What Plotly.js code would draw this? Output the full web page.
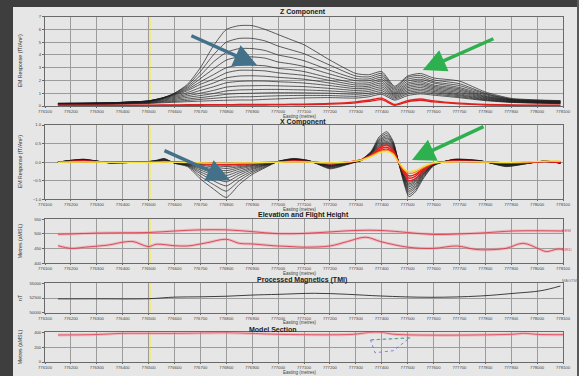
<!DOCTYPE html>
<html>
<head>
<meta charset="utf-8">
<script src="https://cdn.plot.ly/plotly-3.0.1.min.js"></script>
<style>
  html, body { margin: 0; padding: 0; background: #e6e6e6; }
  #chart { width: 579px; height: 376px; }
</style>
</head>
<body>
<div id="chart"></div>
<script>
// ---------- Easting ticks shared by every panel ----------
const EASTING_TICKS = [776100, 776200, 776300, 776400, 776500, 776600, 776700, 776800, 776900, 777000,
  777100, 777200, 777300, 777400, 777500, 777600, 777700, 777800, 777900, 778000, 778100];
const FIDUCIAL_EASTING = 776502;

// ---------- Z component (fT/Am²), one array per channel ----------
const Z_EASTING = [776150, 776250, 776350, 776450, 776500, 776550, 776600, 776650, 776700, 776750,
  776800, 776850, 776900, 776950, 777000, 777050, 777100, 777200, 777300, 777350,
  777400, 777450, 777500, 777550, 777600, 777700, 777800, 777900, 778000, 778090];
const Z_CH01 = [0.22,0.24,0.26,0.32,0.36,0.55,1.0,1.7,3.0,4.7,6.0,6.3,6.3,6.0,5.6,5.2,4.8,3.6,2.55,2.45,2.7,1.55,2.35,2.55,2.2,1.95,1.1,0.6,0.48,0.42];
const Z_CH02 = [0.2,0.22,0.25,0.32,0.38,0.6,1.0,1.6,2.7,4.0,5.0,5.3,5.3,5.1,4.7,4.4,4.1,3.2,2.35,2.28,2.55,1.45,2.25,2.4,2.05,1.75,1.0,0.55,0.45,0.4];
const Z_CH03 = [0.2,0.22,0.25,0.33,0.4,0.62,0.95,1.5,2.4,3.45,4.2,4.5,4.5,4.35,4.0,3.8,3.55,2.8,2.15,2.12,2.4,1.35,2.1,2.25,1.9,1.6,0.95,0.52,0.42,0.38];
const Z_CH04 = [0.18,0.2,0.24,0.33,0.4,0.62,0.92,1.4,2.15,2.9,3.6,3.85,3.85,3.75,3.45,3.3,3.1,2.5,1.98,1.98,2.25,1.25,1.95,2.1,1.8,1.45,0.88,0.5,0.4,0.36];
const Z_CH05 = [0.18,0.2,0.24,0.33,0.4,0.6,0.88,1.3,1.9,2.45,3.0,3.2,3.2,3.15,2.95,2.85,2.7,2.2,1.8,1.82,2.1,1.15,1.8,1.95,1.65,1.35,0.8,0.47,0.38,0.34];
const Z_CH06 = [0.17,0.19,0.23,0.32,0.39,0.58,0.82,1.2,1.7,2.1,2.6,2.8,2.8,2.75,2.6,2.5,2.4,2.0,1.65,1.68,1.95,1.05,1.68,1.82,1.55,1.25,0.75,0.45,0.36,0.32];
const Z_CH07 = [0.16,0.18,0.22,0.3,0.37,0.55,0.75,1.05,1.45,1.8,2.2,2.35,2.37,2.33,2.25,2.18,2.1,1.8,1.5,1.55,1.8,0.98,1.55,1.7,1.45,1.15,0.7,0.42,0.34,0.3];
const Z_CH08 = [0.15,0.17,0.2,0.28,0.34,0.5,0.68,0.92,1.22,1.5,1.82,1.93,1.96,1.95,1.9,1.86,1.8,1.6,1.36,1.42,1.65,0.9,1.43,1.58,1.35,1.05,0.65,0.4,0.32,0.28];
const Z_CH09 = [0.14,0.16,0.19,0.26,0.31,0.45,0.6,0.8,1.0,1.22,1.48,1.57,1.59,1.6,1.58,1.55,1.52,1.38,1.22,1.28,1.5,0.82,1.3,1.45,1.25,0.95,0.6,0.37,0.3,0.26];
const Z_CH10 = [0.13,0.15,0.18,0.24,0.28,0.4,0.52,0.68,0.82,0.98,1.18,1.26,1.28,1.3,1.3,1.28,1.26,1.18,1.07,1.14,1.35,0.74,1.18,1.32,1.15,0.87,0.55,0.34,0.28,0.24];
const Z_CH11 = [0.12,0.14,0.17,0.22,0.26,0.35,0.44,0.55,0.66,0.78,0.92,0.98,1.0,1.03,1.04,1.04,1.03,1.0,0.92,1.0,1.2,0.65,1.06,1.2,1.05,0.8,0.5,0.32,0.26,0.22];
const Z_CH12 = [0.11,0.13,0.15,0.2,0.23,0.3,0.36,0.44,0.52,0.6,0.68,0.72,0.73,0.77,0.8,0.82,0.83,0.82,0.76,0.86,1.05,0.55,0.95,1.08,0.95,0.72,0.46,0.3,0.24,0.2];
const Z_CH13 = [0.1,0.12,0.14,0.18,0.2,0.25,0.29,0.34,0.38,0.42,0.45,0.47,0.47,0.52,0.56,0.6,0.63,0.66,0.62,0.72,0.92,0.45,0.82,0.95,0.85,0.65,0.42,0.28,0.22,0.18];
const Z_LATE1 = [0.06,0.06,0.06,0.07,0.07,0.08,0.09,0.1,0.1,0.11,0.11,0.12,0.12,0.12,0.13,0.14,0.15,0.2,0.33,0.45,0.62,0.12,0.42,0.55,0.4,0.22,0.12,0.08,0.07,0.07];
const Z_LATE2 = [0.03,0.03,0.03,0.04,0.04,0.05,0.05,0.06,0.06,0.07,0.07,0.08,0.08,0.08,0.09,0.1,0.1,0.14,0.25,0.36,0.5,0.06,0.33,0.45,0.32,0.16,0.08,0.05,0.04,0.04];

// ---------- X component (fT/Am²), one array per channel ----------
const X_EASTING = [776150, 776200, 776250, 776300, 776350, 776420, 776480, 776530, 776560, 776600,
  776650, 776700, 776750, 776800, 776850, 776900, 776950, 777000, 777060, 777120,
  777200, 777260, 777320, 777360, 777390, 777420, 777445, 777465, 777485, 777505,
  777530, 777560, 777600, 777680, 777780, 777880, 777960, 778030, 778090];
const X_CH01 = [0.0,0.05,0.08,0.03,-0.02,-0.01,0.0,0.05,0.1,-0.03,-0.12,-0.45,-0.72,-0.95,-0.6,-0.33,-0.15,0.02,0.1,0.04,-0.18,-0.08,0.06,0.3,0.68,0.82,0.55,0.0,-0.55,-0.93,-0.8,-0.45,-0.1,0.08,0.04,-0.12,-0.04,0.03,-0.03];
const X_CH02 = [0.0,0.05,0.075,0.03,-0.02,-0.01,0.0,0.04,0.09,-0.03,-0.1,-0.38,-0.6,-0.78,-0.5,-0.28,-0.13,0.02,0.09,0.04,-0.16,-0.07,0.06,0.28,0.64,0.77,0.52,0.0,-0.5,-0.87,-0.75,-0.42,-0.09,0.07,0.04,-0.11,-0.04,0.03,-0.03];
const X_CH03 = [0.0,0.045,0.07,0.03,-0.02,-0.01,0.0,0.04,0.08,-0.02,-0.09,-0.31,-0.5,-0.64,-0.42,-0.24,-0.11,0.02,0.085,0.035,-0.15,-0.06,0.06,0.27,0.6,0.72,0.49,0.0,-0.47,-0.81,-0.7,-0.39,-0.08,0.07,0.035,-0.1,-0.035,0.03,-0.025];
const X_CH04 = [0.0,0.04,0.065,0.025,-0.02,-0.01,0.0,0.035,0.07,-0.02,-0.08,-0.26,-0.42,-0.53,-0.35,-0.2,-0.09,0.015,0.08,0.03,-0.13,-0.05,0.055,0.26,0.57,0.68,0.46,0.0,-0.44,-0.76,-0.66,-0.36,-0.07,0.065,0.03,-0.09,-0.03,0.03,-0.025];
const X_CH05 = [0.0,0.04,0.06,0.025,-0.015,-0.01,0.0,0.03,0.06,-0.015,-0.07,-0.21,-0.35,-0.44,-0.29,-0.17,-0.08,0.015,0.07,0.03,-0.12,-0.045,0.05,0.25,0.54,0.64,0.44,0.0,-0.41,-0.71,-0.62,-0.34,-0.07,0.06,0.03,-0.08,-0.03,0.025,-0.02];
const X_CH06 = [0.0,0.035,0.055,0.02,-0.015,-0.01,0.0,0.03,0.05,-0.015,-0.06,-0.17,-0.28,-0.36,-0.24,-0.14,-0.07,0.01,0.065,0.025,-0.11,-0.04,0.05,0.24,0.51,0.6,0.41,0.0,-0.38,-0.66,-0.58,-0.32,-0.06,0.055,0.025,-0.07,-0.025,0.025,-0.02];
const X_CH07 = [0.0,0.035,0.05,0.02,-0.01,-0.01,0.0,0.025,0.045,-0.01,-0.05,-0.14,-0.23,-0.29,-0.19,-0.11,-0.06,0.01,0.06,0.025,-0.1,-0.035,0.045,0.23,0.48,0.56,0.39,0.0,-0.36,-0.62,-0.54,-0.3,-0.055,0.05,0.025,-0.065,-0.02,0.02,-0.02];
const X_CH08 = [0.0,0.03,0.045,0.02,-0.01,-0.005,0.0,0.02,0.04,-0.01,-0.04,-0.11,-0.18,-0.23,-0.15,-0.09,-0.05,0.01,0.055,0.02,-0.09,-0.03,0.045,0.22,0.45,0.53,0.37,0.0,-0.34,-0.58,-0.51,-0.28,-0.05,0.045,0.02,-0.06,-0.02,0.02,-0.015];
const X_CH09 = [0.0,0.03,0.04,0.015,-0.01,-0.005,0.0,0.02,0.035,-0.01,-0.035,-0.08,-0.13,-0.17,-0.12,-0.07,-0.04,0.005,0.05,0.02,-0.08,-0.03,0.04,0.21,0.43,0.5,0.35,0.0,-0.32,-0.54,-0.48,-0.26,-0.045,0.04,0.02,-0.055,-0.02,0.02,-0.015];
const X_CH10 = [0.0,0.025,0.035,0.015,-0.01,-0.005,0.0,0.015,0.03,-0.005,-0.03,-0.06,-0.09,-0.12,-0.09,-0.05,-0.03,0.005,0.045,0.015,-0.07,-0.025,0.04,0.2,0.4,0.47,0.33,0.0,-0.3,-0.5,-0.45,-0.24,-0.04,0.04,0.02,-0.05,-0.015,0.015,-0.015];
const X_LATE1 = [0.0,0.02,0.03,0.01,-0.005,0.0,0.0,0.01,0.02,0.0,-0.02,-0.04,-0.06,-0.08,-0.06,-0.04,-0.02,0.0,0.03,0.01,-0.04,-0.01,0.06,0.2,0.38,0.46,0.32,0.0,-0.3,-0.5,-0.44,-0.24,-0.04,0.03,0.015,-0.03,-0.01,0.02,0.0];
const X_LATE2 = [0.0,0.015,0.025,0.01,-0.005,0.0,0.0,0.01,0.015,0.0,-0.015,-0.03,-0.05,-0.06,-0.05,-0.03,-0.015,0.0,0.025,0.01,-0.035,-0.01,0.06,0.19,0.34,0.4,0.28,0.0,-0.26,-0.43,-0.38,-0.21,-0.035,0.025,0.01,-0.025,-0.01,0.02,0.0];
const X_LATE3 = [0.0,0.01,0.02,0.005,0.0,0.0,0.0,0.005,0.01,0.0,-0.01,-0.02,-0.035,-0.045,-0.035,-0.02,-0.01,0.0,0.02,0.005,-0.03,-0.005,0.06,0.18,0.3,0.35,0.25,0.0,-0.23,-0.37,-0.33,-0.18,-0.03,0.02,0.01,-0.02,-0.005,0.015,0.0];
const X_LATE4 = [0.0,0.01,0.015,0.005,0.0,0.0,0.0,0.0,0.005,0.0,-0.01,-0.015,-0.025,-0.03,-0.025,-0.015,-0.01,0.0,0.015,0.005,-0.02,0.0,0.06,0.17,0.28,0.32,0.23,0.0,-0.2,-0.3,-0.27,-0.15,-0.025,0.015,0.01,-0.015,0.0,0.02,0.02];
const X_LATE5 = [-0.01,0.0,0.01,0.0,-0.01,-0.01,-0.01,-0.01,0.0,-0.01,-0.01,-0.02,-0.03,-0.03,-0.02,-0.02,-0.01,-0.005,0.01,0.0,-0.02,0.0,0.05,0.15,0.25,0.28,0.2,0.0,-0.17,-0.25,-0.22,-0.12,-0.02,0.01,0.01,-0.01,0.01,0.03,0.03];

// ---------- Elevation and flight height (m aMSL) ----------
const ELEV_UPPER_EASTING = [776150, 776200, 776300, 776400, 776500, 776600, 776700, 776800, 776900, 777000,
  777100, 777200, 777300, 777400, 777500, 777600, 777700, 777800, 777900, 778000, 778100];
const ELEV_UPPER = [499, 500, 503, 504, 505, 510, 514, 514, 508, 501, 502, 507, 512, 512, 505, 498, 500, 504, 510, 511, 510];
const ELEV_LOWER_EASTING = [776150, 776200, 776255, 776350, 776400, 776440, 776500, 776530, 776600, 776650,
  776725, 776800, 776850, 776900, 776980, 777050, 777100, 777200, 777267, 777338,
  777396, 777500, 777600, 777690, 777757, 777805, 777880, 777946, 778010, 778036, 778075, 778100];
const ELEV_LOWER = [460, 451, 455, 463, 472, 474, 457, 465, 460, 459, 470, 482, 468, 466, 460, 457, 455, 459, 474, 489,
  474, 455, 451, 459, 448, 446, 451, 468, 448, 440, 448, 448];

// ---------- Processed magnetics, TMI (nT) ----------
const TMI_EASTING = [776150, 776300, 776500, 776600, 776700, 776800, 776900, 777000, 777140, 777267, 777396, 777590, 777780, 777911, 778015, 778090];
const TMI = [52350, 52360, 52380, 52650, 52700, 52800, 53000, 53120, 53300, 53130, 52840, 52620, 52840, 53300, 53740, 54540];

// ---------- Model section (m aMSL) ----------
const MODEL_EASTING = [776150, 776300, 776400, 776600, 776800, 776900, 777000, 777290, 777350, 777400, 777450, 777900, 777950, 778000, 778100];
const MODEL_SURFACE = [364, 370, 386, 386, 395, 385, 373, 373, 398, 400, 373, 373, 386, 372, 368];
const PLATE_EASTING = [777357, 777509, 777445, 777374, 777357];
const PLATE_ELEV = [296, 327, 152, 125, 296];
const PLATE_TOP_EASTING = [777360, 777512];
const PLATE_TOP_ELEV = [300, 322];

// ---------- Layout helpers (pixel -> paper) ----------
const W = 579, H = 376, ML = 45, MR = 16;
const PW = W - ML - MR;
const px = x => (x - ML) / PW;
const py = y => 1 - y / H;

const FONT = 'Liberation Sans, Arial, sans-serif';
const traces = [];

function addLines(list, xs, xa, ya, color, width) {
  list.forEach(ys => traces.push({
    type: 'scatter', mode: 'lines', x: xs, y: ys, xaxis: xa, yaxis: ya,
    line: { color: color, width: width, shape: 'spline', smoothing: 0.6 },
    hoverinfo: 'skip', showlegend: false
  }));
}

// Z panel
addLines([Z_CH01, Z_CH02, Z_CH03, Z_CH04, Z_CH05, Z_CH06, Z_CH07, Z_CH08, Z_CH09, Z_CH10, Z_CH11, Z_CH12, Z_CH13],
  Z_EASTING, 'x', 'y', '#1e1e1e', 0.7);
addLines([Z_LATE1, Z_LATE2], Z_EASTING, 'x', 'y', '#e02020', 1.3);

// X panel
addLines([X_CH01, X_CH02, X_CH03, X_CH04, X_CH05, X_CH06, X_CH07, X_CH08, X_CH09, X_CH10],
  X_EASTING, 'x2', 'y2', '#1e1e1e', 0.7);
addLines([X_LATE1, X_LATE2, X_LATE3], X_EASTING, 'x2', 'y2', '#e81c1c', 1.4);
addLines([X_LATE4], X_EASTING, 'x2', 'y2', '#f08a20', 1.2);
addLines([X_LATE5], X_EASTING, 'x2', 'y2', '#f0e040', 1.2);

// Elevation panel: soft pink halo under a thin red line
[[ELEV_UPPER_EASTING, ELEV_UPPER], [ELEV_LOWER_EASTING, ELEV_LOWER]].forEach(([xs, ys]) => {
  traces.push({ type: 'scatter', mode: 'lines', x: xs, y: ys, xaxis: 'x3', yaxis: 'y3',
    line: { color: 'rgba(240,140,150,0.45)', width: 3, shape: 'spline' }, hoverinfo: 'skip', showlegend: false });
  traces.push({ type: 'scatter', mode: 'lines', x: xs, y: ys, xaxis: 'x3', yaxis: 'y3',
    line: { color: '#d83040', width: 0.8, shape: 'spline' }, hoverinfo: 'skip', showlegend: false });
});

// TMI panel
traces.push({ type: 'scatter', mode: 'lines', x: TMI_EASTING, y: TMI, xaxis: 'x4', yaxis: 'y4',
  line: { color: '#2a2a2a', width: 0.9, shape: 'spline' }, hoverinfo: 'skip', showlegend: false });

// Model section panel
traces.push({ type: 'scatter', mode: 'lines', x: MODEL_EASTING, y: MODEL_SURFACE, xaxis: 'x5', yaxis: 'y5',
  line: { color: 'rgba(240,140,150,0.5)', width: 3, shape: 'spline' }, hoverinfo: 'skip', showlegend: false });
traces.push({ type: 'scatter', mode: 'lines', x: MODEL_EASTING, y: MODEL_SURFACE, xaxis: 'x5', yaxis: 'y5',
  line: { color: '#e04050', width: 0.8, shape: 'spline' }, hoverinfo: 'skip', showlegend: false });
traces.push({ type: 'scatter', mode: 'lines', x: PLATE_EASTING, y: PLATE_ELEV, xaxis: 'x5', yaxis: 'y5',
  line: { color: '#6a6ad8', width: 0.8, dash: 'dot' }, hoverinfo: 'skip', showlegend: false });
traces.push({ type: 'scatter', mode: 'lines', x: PLATE_TOP_EASTING, y: PLATE_TOP_ELEV, xaxis: 'x5', yaxis: 'y5',
  line: { color: '#40b060', width: 0.8, dash: 'dot' }, hoverinfo: 'skip', showlegend: false });

// ---------- Axes ----------
function xAxis(anchor) {
  return {
    anchor: anchor, domain: [0, 1], range: [776100, 778100],
    tickmode: 'array', tickvals: EASTING_TICKS, ticktext: EASTING_TICKS.map(String),
    tickfont: { family: FONT, size: 4.2, color: '#444' },
    ticks: 'outside', ticklen: 1, tickcolor: '#666',
    showgrid: true, gridcolor: '#9c9c9c', gridwidth: 1,
    showline: true, linecolor: '#6a6a6a', linewidth: 1, mirror: true,
    zeroline: false, fixedrange: true
  };
}
function yAxis(anchor, top, bottom, range, dtick, fmt) {
  return {
    anchor: anchor, domain: [py(bottom), py(top)], range: range, dtick: dtick, tick0: range[0],
    tickformat: fmt, tickfont: { family: FONT, size: 4.2, color: '#444' },
    ticks: 'outside', ticklen: 2, tickcolor: '#666',
    showgrid: true, gridcolor: '#9c9c9c', gridwidth: 1,
    showline: true, linecolor: '#6a6a6a', linewidth: 1, mirror: true,
    zeroline: false, fixedrange: true
  };
}

const PANELS = [
  { top: 16.7, bottom: 106, title: 'Z Component', tx: 303, ty: 12.3, ey: 116.5, ytitle: 'EM Response (fT/Am²)' },
  { top: 125, bottom: 199.3, title: 'X Component', tx: 303, ty: 122.2, ey: 209.5, ytitle: 'EM Response (fT/Am²)' },
  { top: 219.3, bottom: 263.3, title: 'Elevation and Flight Height', tx: 303, ty: 215.5, ey: 273.5, ytitle: 'Metres (aMSL)' },
  { top: 283.3, bottom: 312.7, title: 'Processed Magnetics (TMI)', tx: 302, ty: 280, ey: 322.8, ytitle: 'nT' },
  { top: 332.3, bottom: 362, title: 'Model Section', tx: 272, ty: 329, ey: 372.3, ytitle: 'Metres (aMSL)' }
];

const annotations = [];
const shapes = [];
PANELS.forEach((p, i) => {
  annotations.push({ xref: 'paper', yref: 'paper', x: px(p.tx), y: py(p.ty), text: '<b>' + p.title + '</b>',
    showarrow: false, xanchor: 'center', yanchor: 'middle', borderpad: 0,
    font: { family: FONT, size: 7, color: '#1a1a1a' } });
  annotations.push({ xref: 'paper', yref: 'paper', x: px(300), y: py(p.ey), text: 'Easting (metres)',
    showarrow: false, xanchor: 'center', yanchor: 'middle', borderpad: 0,
    font: { family: FONT, size: 4.5, color: '#444' } });
  annotations.push({ xref: 'paper', yref: 'paper', x: px(20), y: py((p.top + p.bottom) / 2), text: p.ytitle,
    textangle: -90, showarrow: false, xanchor: 'center', yanchor: 'middle', borderpad: 0,
    font: { family: FONT, size: 5.2, color: '#333' } });
  // pale yellow fiducial marker through every panel
  const sfx = i === 0 ? '' : String(i + 1);
  shapes.push({ type: 'line', xref: 'x' + sfx, yref: 'y' + sfx + ' domain', x0: FIDUCIAL_EASTING, x1: FIDUCIAL_EASTING,
    y0: 0, y1: 1, layer: 'below', line: { color: 'rgba(242,234,120,0.95)', width: 3.5 } });
});

// Channel labels at the right end of the elevation and TMI profiles
annotations.push({ xref: 'paper', yref: 'paper', x: px(561), y: py(230), text: 'DEM', showarrow: false,
  xanchor: 'left', borderpad: 0, font: { family: FONT, size: 4, color: '#d84050' } });
annotations.push({ xref: 'paper', yref: 'paper', x: px(561), y: py(249), text: 'BIRD', showarrow: false,
  xanchor: 'left', borderpad: 0, font: { family: FONT, size: 4, color: '#d84050' } });
annotations.push({ xref: 'paper', yref: 'paper', x: px(561), y: py(284), text: 'MAGTMI', showarrow: false,
  xanchor: 'left', borderpad: 0, font: { family: FONT, size: 4, color: '#777' } });

// Arrows pointing at the anomalies
const BLUE = '#44718a', GREEN = '#2fb04e';
[
  { xr: 'x', yr: 'y', x: 776918, y: 3.21, ax: -67, ay: -30, c: BLUE },
  { xr: 'x', yr: 'y', x: 777559, y: 2.82, ax: 72, ay: -32, c: GREEN },
  { xr: 'x2', yr: 'y2', x: 776814, y: -0.48, ax: -67, ay: -30, c: BLUE },
  { xr: 'x2', yr: 'y2', x: 777517, y: 0.06, ax: 73, ay: -34, c: GREEN }
].forEach(a => annotations.push({ xref: a.xr, yref: a.yr, x: a.x, y: a.y, ax: a.ax, ay: a.ay, text: '',
  showarrow: true, arrowhead: 2, arrowsize: 1.35, arrowwidth: 3.4, arrowcolor: a.c, standoff: 0 }));

// Dark window frame
shapes.push({ type: 'rect', xref: 'paper', yref: 'paper', x0: px(0), x1: px(13), y0: 0, y1: 1, layer: 'above',
  fillcolor: '#3e3e3e', line: { width: 0 } });
shapes.push({ type: 'rect', xref: 'paper', yref: 'paper', x0: px(0), x1: px(579), y0: py(7), y1: 1, layer: 'above',
  fillcolor: '#3e3e3e', line: { width: 0 } });
shapes.push({ type: 'rect', xref: 'paper', yref: 'paper', x0: px(577), x1: px(579), y0: 0, y1: 1, layer: 'above',
  fillcolor: '#5a5a5a', line: { width: 0 } });

const layout = {
  width: W, height: H,
  margin: { l: ML, r: MR, t: 0, b: 0, pad: 0 },
  paper_bgcolor: '#e6e6e6', plot_bgcolor: '#e6e6e6',
  font: { family: FONT, size: 5, color: '#333' },
  showlegend: false,
  xaxis: xAxis('y'), xaxis2: xAxis('y2'), xaxis3: xAxis('y3'), xaxis4: xAxis('y4'), xaxis5: xAxis('y5'),
  yaxis: yAxis('x', 16.7, 106, [0, 7], 1, 'd'),
  yaxis2: yAxis('x2', 125, 199.3, [-1, 1], 0.5, '.1f'),
  yaxis3: yAxis('x3', 219.3, 263.3, [400, 550], 50, 'd'),
  yaxis4: yAxis('x4', 283.3, 312.7, [50000, 55000], 2500, 'd'),
  yaxis5: yAxis('x5', 332.3, 362, [0, 400], 200, 'd'),
  annotations: annotations,
  shapes: shapes
};

Plotly.newPlot('chart', traces, layout, { displayModeBar: false, staticPlot: true });
</script>
</body>
</html>
